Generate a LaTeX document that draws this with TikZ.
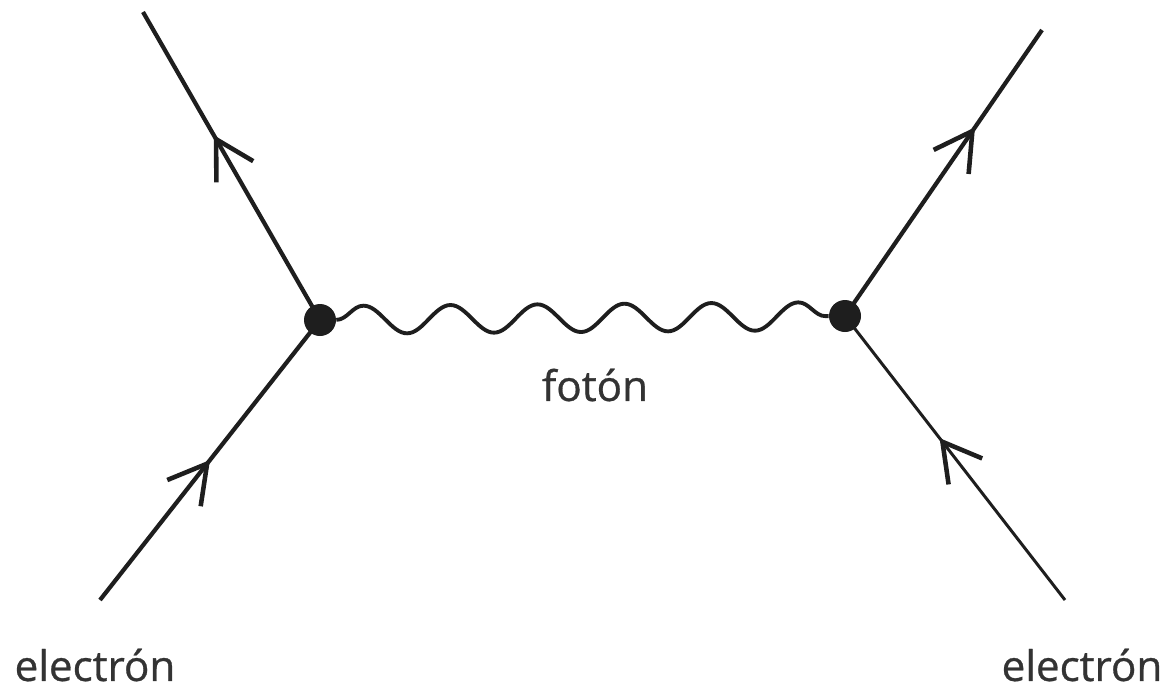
\documentclass[tikz,border=0pt]{standalone}
\usepackage{fontspec}
\setmainfont{Open Sans}
\newfontfamily\labelfont{Open Sans}[FakeBold=0.7]
\usepackage{tikz}
\usetikzlibrary{arrows.meta, decorations.pathmorphing, decorations.markings}
\definecolor{ink}{HTML}{1E1E1E}
\definecolor{labelgray}{HTML}{333333}
\tikzset{
    vertex/.style = {circle, fill=ink, inner sep=0pt, minimum size=0.64cm},
    fermion/.style = {draw=ink, line width=2.4pt, postaction={decorate},
                        decoration={markings, mark=at position #1 with {\arrow[ink, line width=2.6pt]{Straight Barb[length=0.75cm, width=0.85cm]}}}},
    photon/.style = {draw=ink, line width=2.2pt, decorate,
                        decoration={snake, segment length=1.74cm, amplitude=0.28cm}},
    particle/.style = {text=labelgray, font=\labelfont\fontsize{24}{28}\selectfont}
}

\begin{document}
\begin{tikzpicture}[x=0.02cm, y=-0.02cm]
		\useasboundingbox (0,0) rectangle (1166,694);
		\node (vL) [vertex] at (320,320) {};
		\node (vR) [vertex] at (845,316) {};
		\coordinate (eTL) at (143,12);
		\coordinate (eBL) at (100,600);
		\coordinate (eTR) at (1042,30);
		\coordinate (eBR) at (1065,600);
		\draw [fermion=0.5] (eBL) -- (vL.center);
		\draw [fermion=0.6] (vL.center) -- (eTL);
		\draw [fermion=0.66] (vR.center) -- (eTR);
		\draw [fermion=0.57, line width=1.7pt] (eBR) -- (vR.center);
		\draw [photon] (vL) -- (vR);
		\node (eleL) [particle] at (95,665) {electrón};
		\node (eleR) [particle] at (1082,665) {electrón};
		\node (foton) [particle] at (595,385) {fotón};
	\end{tikzpicture}
\end{document}
